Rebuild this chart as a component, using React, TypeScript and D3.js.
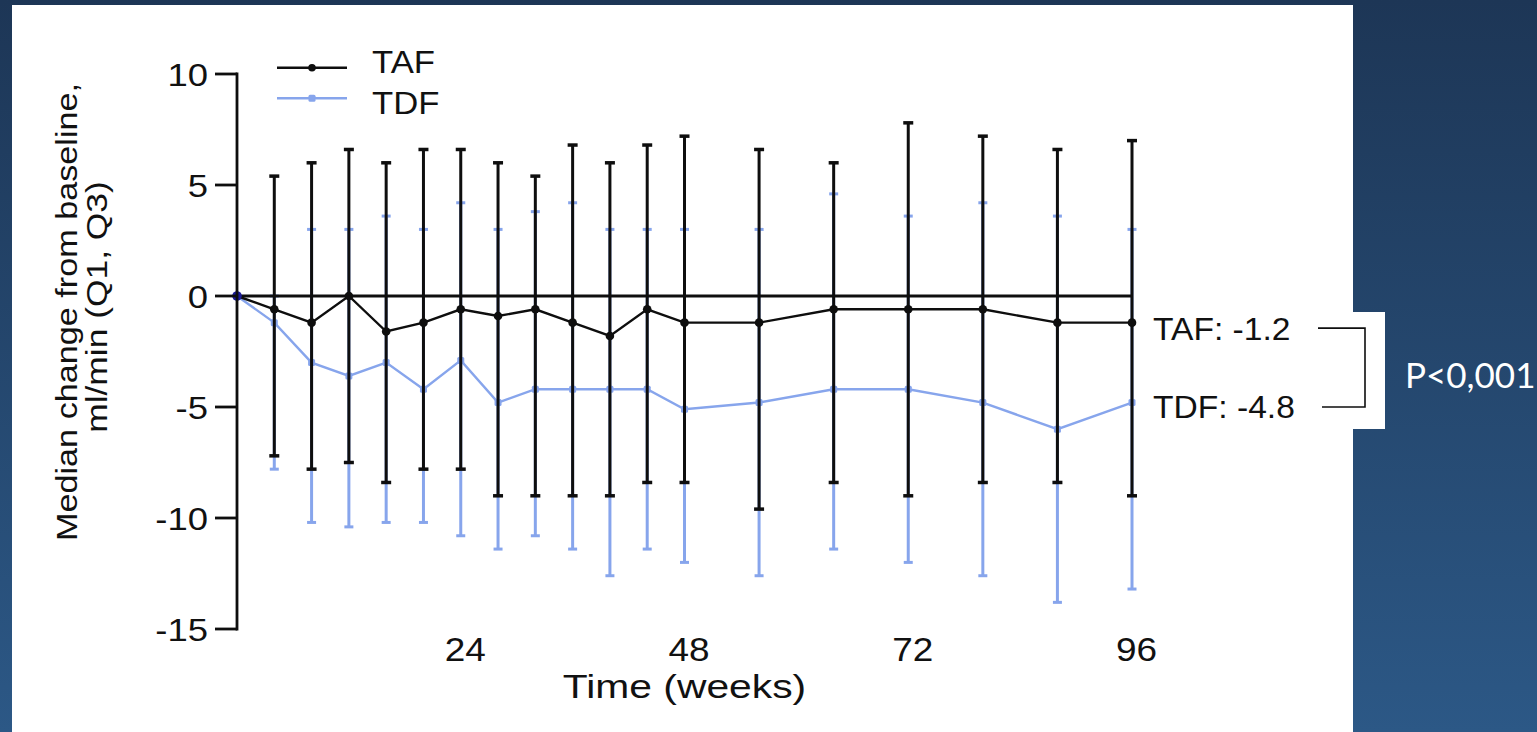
import React from "react";
import * as d3 from "d3";

// Study visits (weeks) and median change in eGFR with interquartile range
const weeks = [0, 4, 8, 12, 16, 20, 24, 28, 32, 36, 40, 44, 48, 56, 64, 72, 80, 88, 96];

const tafMedian = [0, -0.6, -1.2, 0, -1.6, -1.2, -0.6, -0.9, -0.6, -1.2, -1.8, -0.6, -1.2, -1.2, -0.6, -0.6, -0.6, -1.2, -1.2];
const tafQ1 = [0, -7.2, -7.8, -7.5, -8.4, -7.8, -7.8, -9.0, -9.0, -9.0, -9.0, -8.4, -8.4, -9.6, -8.4, -9.0, -8.4, -8.4, -9.0];
const tafQ3 = [0, 5.4, 6.0, 6.6, 6.0, 6.6, 6.6, 6.0, 5.4, 6.8, 6.0, 6.8, 7.2, 6.6, 6.0, 7.8, 7.2, 6.6, 7.0];

const tdfMedian = [0, -1.2, -3.0, -3.6, -3.0, -4.2, -2.9, -4.8, -4.2, -4.2, -4.2, -4.2, -5.1, -4.8, -4.2, -4.2, -4.8, -6.0, -4.8];
const tdfQ1 = [0, -7.8, -10.2, -10.4, -10.2, -10.2, -10.8, -11.4, -10.8, -11.4, -12.6, -11.4, -12.0, -12.6, -11.4, -12.0, -12.6, -13.8, -13.2];
const tdfQ3 = [0, 0, 3.0, 3.0, 3.6, 3.0, 4.2, 3.0, 3.8, 4.2, 3.0, 3.0, 3.0, 3.0, 4.6, 3.6, 4.2, 3.6, 3.0];

const seriesNames = ["TAF", "TDF"];
const xTickValues = [24, 48, 72, 96];
const yTickValues = [-15, -10, -5, 0, 5, 10];
const xTitle = "Time (weeks)";
const yTitleLines = ["Median change from baseline,", "ml/min (Q1, Q3)"];
const pValueText = "P<0,001";

const W = 1537;
const H = 732;
const BLACK = "#0e0e0e";
const BLUE = "#87a5ec";
const FONT = "'Liberation Sans', Arial, Helvetica, sans-serif";

type STextProps = {
  x: number;
  y: number;
  sx?: number;
  rotate?: number;
  anchor?: "start" | "middle" | "end";
  size: number;
  fill?: string;
  family?: string;
  children: React.ReactNode;
};

// Text with a horizontal stretch applied around its anchor point
function SText({ x, y, sx = 1, rotate, anchor = "start", size, fill = "#111", family = FONT, children }: STextProps) {
  const rot = rotate ? ` rotate(${rotate})` : "";
  return (
    <g transform={`translate(${x},${y})${rot} scale(${sx},1)`}>
      <text x={0} y={0} textAnchor={anchor} fontSize={size} fill={fill} fontFamily={family}>
        {children}
      </text>
    </g>
  );
}

export default function App() {
  const x = d3.scaleLinear().domain([0, 96]).range([237, 1132]);
  const y = d3.scaleLinear().domain([-15, 10]).range([629, 74]);

  const taf = weeks.map((w, i) => ({ w, m: tafMedian[i], lo: tafQ1[i], hi: tafQ3[i] }));
  const tdf = weeks.map((w, i) => ({ w, m: tdfMedian[i], lo: tdfQ1[i], hi: tdfQ3[i] }));

  const line = d3
    .line<{ w: number; m: number }>()
    .x((d) => x(d.w))
    .y((d) => y(d.m));

  const axisX = 237;
  const lastTaf = tafMedian[tafMedian.length - 1];
  const lastTdf = tdfMedian[tdfMedian.length - 1];

  const errorBars = (
    data: { w: number; lo: number; hi: number }[],
    color: string,
    width: number,
    capW: number,
    capH: number,
    key: string
  ) =>
    data
      .filter((d) => d.lo !== d.hi)
      .map((d, i) => (
        <g key={`${key}-${i}`}>
          <line x1={x(d.w)} x2={x(d.w)} y1={y(d.lo)} y2={y(d.hi)} stroke={color} strokeWidth={width} />
          <line x1={x(d.w) - capW / 2} x2={x(d.w) + capW / 2} y1={y(d.hi)} y2={y(d.hi)} stroke={color} strokeWidth={capH} />
          <line x1={x(d.w) - capW / 2} x2={x(d.w) + capW / 2} y1={y(d.lo)} y2={y(d.lo)} stroke={color} strokeWidth={capH} />
        </g>
      ));

  const legendY = [67.7, 98.3];
  const legendTextY = [73, 114];

  return (
    <svg
      width={W}
      height={H}
      viewBox={`0 0 ${W} ${H}`}
      style={{ position: "fixed", left: 0, top: 0, display: "block" }}
    >
      <defs>
        <linearGradient id="bg" x1="0" y1="0" x2="0" y2="1">
          <stop offset="0" stopColor="#1d3656" />
          <stop offset="1" stopColor="#2c5886" />
        </linearGradient>
      </defs>
      <rect x={0} y={0} width={W} height={H} fill="url(#bg)" />
      <rect x={12} y={5} width={1341} height={H} fill="#ffffff" />
      <rect x={1352} y={312} width={33} height={117} fill="#ffffff" />

      {/* TDF: error bars, line and markers */}
      {errorBars(tdf, BLUE, 3, 9, 3, "tdf")}
      <path d={line(tdf) || ""} fill="none" stroke={BLUE} strokeWidth={2.4} />
      {tdf.map((d, i) => (
        <rect key={`tdfm-${i}`} x={x(d.w) - 3.5} y={y(d.m) - 3.5} width={7} height={7} rx={1.5} fill={BLUE} />
      ))}

      {/* TAF: error bars */}
      {errorBars(taf, BLACK, 3, 10, 3.5, "taf")}

      {/* reference line at zero change */}
      <line x1={x(0)} x2={x(96)} y1={y(0)} y2={y(0)} stroke={BLACK} strokeWidth={2.8} />

      {/* TAF: line and markers */}
      <path d={line(taf) || ""} fill="none" stroke={BLACK} strokeWidth={2.4} />
      {taf.map((d, i) => (
        <circle key={`tafm-${i}`} cx={x(d.w)} cy={y(d.m)} r={4.3} fill={BLACK} />
      ))}
      <circle cx={x(0)} cy={y(0)} r={4.8} fill="#1c1c9a" />

      {/* y axis */}
      <line x1={axisX} x2={axisX} y1={y(10) - 1.4} y2={y(-15) + 1.4} stroke={BLACK} strokeWidth={2.8} />
      {yTickValues.map((v) => (
        <g key={`yt-${v}`}>
          <line x1={axisX - 22} x2={axisX} y1={y(v)} y2={y(v)} stroke={BLACK} strokeWidth={2.8} />
          <SText x={208} y={y(v) + 11.5} sx={1.14} anchor="end" size={32}>
            {v}
          </SText>
        </g>
      ))}

      {/* x tick labels */}
      {xTickValues.map((v) => (
        <SText key={`xt-${v}`} x={x(v) + 4.5} y={661} sx={1.12} anchor="middle" size={33}>
          {v}
        </SText>
      ))}
      <SText x={x(48)} y={698} sx={1.2} anchor="middle" size={34}>
        {xTitle}
      </SText>

      {/* y title */}
      <SText x={77} y={312} rotate={-90} sx={1.14} anchor="middle" size={30}>
        {yTitleLines[0]}
      </SText>
      <SText x={107} y={307} rotate={-90} sx={1.18} anchor="middle" size={30}>
        {yTitleLines[1]}
      </SText>

      {/* legend */}
      <line x1={277} x2={347} y1={legendY[0]} y2={legendY[0]} stroke={BLACK} strokeWidth={2.4} />
      <circle cx={312} cy={legendY[0]} r={3.8} fill={BLACK} />
      <line x1={277} x2={347} y1={legendY[1]} y2={legendY[1]} stroke={BLUE} strokeWidth={2.6} />
      <rect x={308.5} y={legendY[1] - 3.5} width={7} height={7} rx={1.5} fill={BLUE} />
      {seriesNames.map((n, i) => (
        <SText key={`lg-${n}`} x={372} y={legendTextY[i]} sx={1.12} size={31}>
          {n}
        </SText>
      ))}

      {/* end-of-study medians with significance bracket */}
      <SText x={1153} y={y(lastTaf) + 17} sx={1.05} size={32}>
        {`${seriesNames[0]}: ${lastTaf.toFixed(1)}`}
      </SText>
      <SText x={1153} y={y(lastTdf) + 15.5} sx={1.05} size={32}>
        {`${seriesNames[1]}: ${lastTdf.toFixed(1)}`}
      </SText>
      <path
        d={`M1318,${y(lastTaf) + 5.5} H1365 V${y(lastTdf) + 4.5} H1322`}
        fill="none"
        stroke={BLACK}
        strokeWidth={1.6}
      />
      <SText x={1405} y={388} size={35} fill="#ffffff" family="Lato, 'Open Sans', sans-serif">
        {pValueText}
      </SText>
    </svg>
  );
}
